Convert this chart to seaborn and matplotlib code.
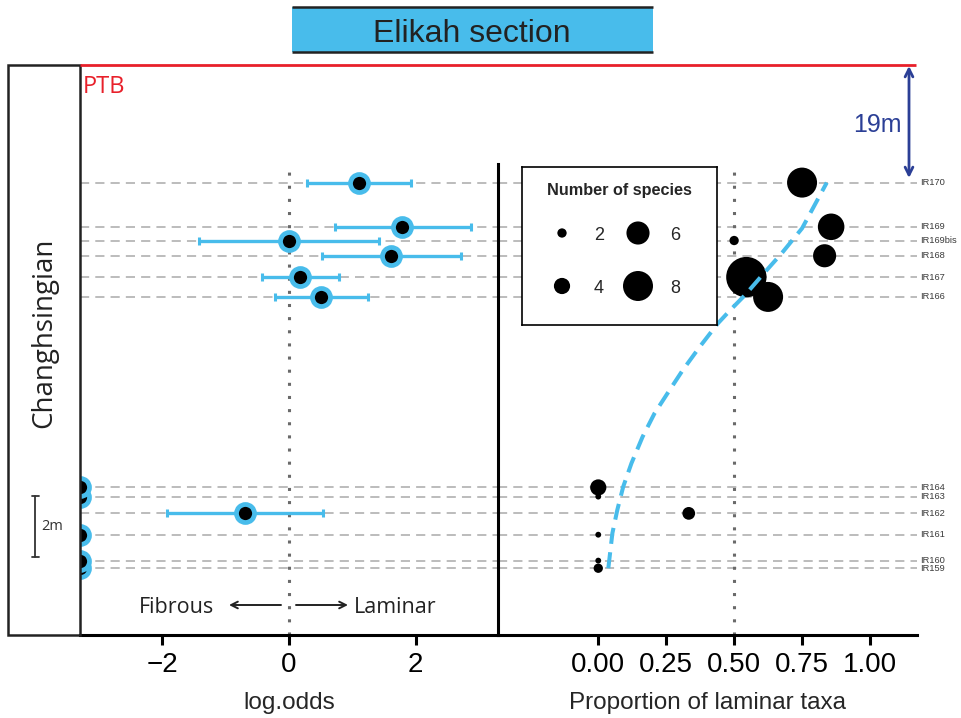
import numpy as np
import matplotlib
matplotlib.use("Agg")
import matplotlib.pyplot as plt
import matplotlib.transforms as mtransforms
from matplotlib.patches import Rectangle
import seaborn as sns

# ---- sample data (Elikah section, Changhsingian) ----
samples = ["IR159", "IR160", "IR161", "IR162", "IR163", "IR164",
           "IR166", "IR167", "IR168", "IR169bis", "IR169", "IR170"]
height_m = [0.0, 0.25, 1.1, 1.8, 2.35, 2.65, 8.9, 9.55, 10.25, 10.75, 11.2, 12.65]
n_species = [2, 1, 1, 3, 1, 4, 8, 11, 6, 2, 7, 8]
prop_laminar = [0.0, 0.0, 0.0, 0.333, 0.0, 0.0, 0.625, 0.545, 0.833, 0.5, 0.857, 0.75]
log_odds = [-np.inf, -np.inf, -np.inf, -0.69, -np.inf, -np.inf,
            0.51, 0.18, 1.61, 0.0, 1.79, 1.10]
ci_low = [np.nan, np.nan, np.nan, -1.92, np.nan, np.nan,
          -0.22, -0.42, 0.52, -1.42, 0.72, 0.28]
ci_high = [np.nan, np.nan, np.nan, 0.54, np.nan, np.nan,
           1.25, 0.79, 2.71, 1.42, 2.87, 1.92]

# fitted trend of laminar proportion with height
curve_prop = [0.037, 0.052, 0.070, 0.092, 0.122, 0.163, 0.207, 0.255, 0.311,
              0.374, 0.440, 0.486, 0.540, 0.614, 0.675, 0.750, 0.841]
curve_height = [0.0, 1.15, 1.91, 2.68, 3.44, 4.31, 5.08, 5.74, 6.50,
                7.27, 8.03, 8.47, 8.96, 9.72, 10.33, 11.15, 12.65]

legend_counts = [2, 4, 6, 8]
left_ticks = [-2, 0, 2]
right_ticks = [0.0, 0.25, 0.5, 0.75, 1.0]
right_tick_labels = ["0.00", "0.25", "0.50", "0.75", "1.00"]

# ---- style ----
sns.set_style("white")
plt.rcParams["font.family"] = ["Liberation Sans", "DejaVu Sans"]
HUMANIST = ["Open Sans", "DejaVu Sans"]

BLUE = "#48BCEB"
RED = "#E8202A"
NAVY = "#2B3F96"
GRID = "#AAAAAA"
DOT = "#6A6A6A"
INK = "#222222"

W, H = 961, 718
fig = plt.figure(figsize=(W / 100, H / 100), dpi=100)


def box(x0, y0, x1, y1):
    """Pixel box (origin top-left) -> figure-fraction rect."""
    return [x0 / W, 1 - y1 / H, (x1 - x0) / W, (y1 - y0) / H]


def marker_area(n):
    d_px = 2.4 + 3.45 * n
    return (d_px * 72 / 100) ** 2


size_map = {n: marker_area(n) for n in sorted(set(n_species) | set(legend_counts))}

axL = fig.add_axes(box(80, 164, 498, 635))
axR = fig.add_axes(box(498, 164, 917, 635))

XL = (-3.3, 3.3)
XR = (-0.369, 1.173)
YLIM = (-2.19, 13.26)

h = np.array(height_m)
lo = np.array(log_odds)
lo_plot = np.clip(lo, XL[0], XL[1])
lo_c = np.array(ci_low)
hi_c = np.array(ci_high)

# sample level guides
for yv in height_m:
    for ax in (axL, axR):
        ax.axhline(yv, color=GRID, lw=1.1, ls=(0, (6, 4)), zorder=1)

axL.axvline(0, color=DOT, lw=2.2, ls=(0, (1, 3.3)), zorder=2)
axR.axvline(0.5, color=DOT, lw=2.2, ls=(0, (1, 3.3)), zorder=2)

# ---- left panel: log odds with intervals ----
ok = np.isfinite(lo)
axL.errorbar(lo[ok], h[ok], xerr=[lo[ok] - lo_c[ok], hi_c[ok] - lo[ok]],
             fmt="none", ecolor=BLUE, elinewidth=2.4, capsize=2.9,
             capthick=2.2, zorder=3)
sns.scatterplot(x=lo_plot, y=h, ax=axL, s=168, color="black",
                edgecolor=BLUE, linewidth=3.4, zorder=4, legend=False)

# ---- right panel: proportion of laminar taxa ----
sns.scatterplot(x=prop_laminar, y=height_m, size=n_species, sizes=size_map,
                color="black", linewidth=0, ax=axR, legend=False, zorder=4)
sns.lineplot(x=curve_prop, y=curve_height, ax=axR, sort=False, estimator=None,
             color=BLUE, lw=2.9, linestyle=(0, (4, 2.1)), zorder=5)

lab_tr = mtransforms.blended_transform_factory(axR.transAxes, axR.transData)
for name, yv in zip(samples, height_m):
    axR.text(1.008, yv, name, transform=lab_tr, fontsize=6.7, color="#3A3A3A",
             va="center", ha="left", clip_on=False)

# ---- axes cosmetics ----
for ax, xl in ((axL, XL), (axR, XR)):
    ax.set_xlim(*xl)
    ax.set_ylim(*YLIM)
    ax.set_yticks([])
    ax.set_ylabel("")
    ax.tick_params(axis="x", length=7, width=2.2, labelsize=20, pad=5,
                   color="black", labelcolor="black", bottom=True)
    for side in ("top", "right"):
        ax.spines[side].set_visible(False)
    ax.spines["bottom"].set_linewidth(2.2)
    ax.spines["bottom"].set_color("black")
axL.spines["left"].set_visible(False)
axR.spines["left"].set_linewidth(2.2)
axR.spines["left"].set_color("black")

axL.set_xticks(left_ticks)
axR.set_xticks(right_ticks, right_tick_labels)
axL.set_xlabel("log.odds", fontsize=17.5, labelpad=10)
axR.set_xlabel("Proportion of laminar taxa", fontsize=17.5, labelpad=10)

# ---- legend box ----
axLeg = fig.add_axes(box(522, 167, 717, 325))
axLeg.set_xlim(0, 195)
axLeg.set_ylim(158, 0)
axLeg.set_xticks([])
axLeg.set_yticks([])
for sp in axLeg.spines.values():
    sp.set_linewidth(1.2)
    sp.set_color("black")
sns.scatterplot(x=[40, 40, 116, 116], y=[66, 119, 66, 119], size=legend_counts,
                sizes=size_map, color="black", linewidth=0, ax=axLeg, legend=False)
axLeg.set_xlim(0, 195)
axLeg.set_ylim(158, 0)
axLeg.set_xlabel("")
axLeg.set_ylabel("")
for (tx, ty), n in zip([(77, 66), (77, 119), (153, 66), (153, 119)], legend_counts):
    axLeg.text(tx, ty, str(n), fontsize=13, ha="center", va="center_baseline")
axLeg.text(97.5, 21.5, "Number of species", fontsize=11.7, fontweight="bold",
           ha="center", va="center_baseline")

# ---- page furniture ----
ov = fig.add_axes([0, 0, 1, 1])
ov.set_xlim(0, W)
ov.set_ylim(H, 0)
ov.axis("off")

# section title
ov.add_patch(Rectangle((292, 7), 361, 45, facecolor=BLUE, edgecolor="none"))
ov.plot([292, 653], [7, 7], color=INK, lw=1.8, solid_capstyle="butt")
ov.plot([292, 653], [52, 52], color=INK, lw=1.8, solid_capstyle="butt")
ov.text(472, 41.5, "Elikah section", fontsize=23, color=INK, ha="center", va="baseline")

# stage column
ov.add_patch(Rectangle((8, 65), 72, 570, fill=False, edgecolor=INK, lw=1.8))
ov.text(51.5, 333, "Changhsingian", rotation=90, rotation_mode="anchor",
        fontsize=20, family=HUMANIST, color=INK, ha="center", va="baseline")

# 2 m scale bar drawn in section height units
bar_tr = mtransforms.blended_transform_factory(ov.transData, axL.transData)
bar_base, bar_len = 0.38, 2.0
ov.plot([35, 35], [bar_base, bar_base + bar_len], color="#333333", lw=1.3, transform=bar_tr)
for yy in (bar_base, bar_base + bar_len):
    ov.plot([31.5, 38.5], [yy, yy], color="#333333", lw=1.3, transform=bar_tr)
ov.text(41, bar_base + bar_len / 2, "2m", fontsize=10.5, family=HUMANIST,
        color="#333333", ha="left", va="center", transform=bar_tr)

# Permian-Triassic boundary
ov.plot([80, 916], [65, 65], color=RED, lw=2.0, solid_capstyle="butt")
ov.text(83, 93, "PTB", fontsize=17, family=HUMANIST, color=RED, ha="left", va="baseline")

# gap to the boundary
ov.annotate("", xy=(909, 178), xytext=(909, 66),
            arrowprops=dict(arrowstyle="<->", color=NAVY, lw=2.0,
                            shrinkA=0, shrinkB=0, mutation_scale=14))
ov.text(902, 131.5, "19m", fontsize=18, color=NAVY, ha="right", va="baseline")

# morphology direction
ov.text(214, 613, "Fibrous", fontsize=15.5, family=HUMANIST, color=INK, ha="right", va="baseline")
ov.text(354, 613, "Laminar", fontsize=15.5, family=HUMANIST, color=INK, ha="left", va="baseline")
ov.annotate("", xy=(229, 605), xytext=(281, 605),
            arrowprops=dict(arrowstyle="->", color=INK, lw=1.4, shrinkA=0,
                            shrinkB=0, mutation_scale=12))
ov.annotate("", xy=(348, 605), xytext=(296, 605),
            arrowprops=dict(arrowstyle="->", color=INK, lw=1.4, shrinkA=0,
                            shrinkB=0, mutation_scale=12))

fig.savefig("out.png", dpi=100)
